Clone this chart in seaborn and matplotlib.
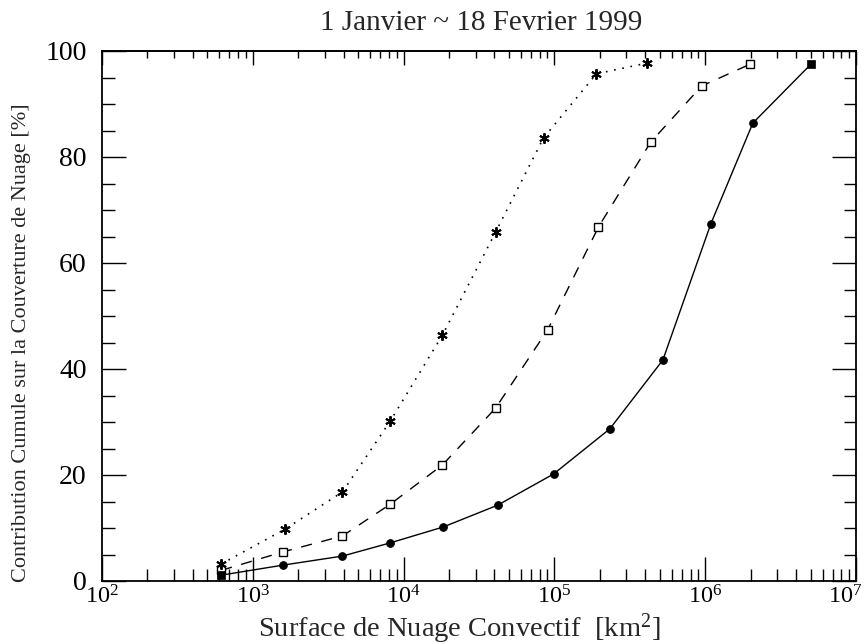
import numpy as np
import pandas as pd
import matplotlib
matplotlib.use("Agg")
import matplotlib.pyplot as plt
import matplotlib.ticker as mticker
import matplotlib.transforms as mtransforms
import seaborn as sns

# ---- data ----
x_solid = [617, 1590, 3930, 8170, 18350, 42000, 98900, 233000, 524000, 1090000, 2070000, 5020000]
y_solid = [1.1, 3.0, 4.7, 7.2, 10.2, 14.3, 20.2, 28.7, 41.7, 67.4, 86.4, 97.5]

x_dash = [617, 1590, 3930, 8170, 18100, 40700, 90200, 196000, 435000, 948000, 1980000]
y_dash = [2.0, 5.5, 8.5, 14.5, 21.9, 32.6, 47.4, 66.8, 82.8, 93.4, 97.5]

x_dot = [617, 1640, 3930, 8170, 18100, 40700, 84700, 190000, 409000]
y_dot = [3.2, 9.8, 16.8, 30.2, 46.4, 65.8, 83.6, 95.7, 97.7]

title = "1 Janvier ~ 18 Fevrier 1999"
xlabel = r"Surface de Nuage Convectif  [km$\mathregular{^2}$]"
ylabel = "Contribution Cumule sur la Couverture de Nuage [%]"

sns.set_theme(style="ticks")
plt.rcParams["font.family"] = ["Liberation Serif", "DejaVu Serif"]
plt.rcParams["mathtext.fontset"] = "custom"
plt.rcParams["mathtext.rm"] = "Liberation Serif"
plt.rcParams["mathtext.it"] = "Liberation Serif:italic"
plt.rcParams["mathtext.bf"] = "Liberation Serif:bold"

fig = plt.figure(figsize=(8.64, 6.44), dpi=100)
ax = fig.add_axes([102/864, 1 - 581/644, (856-102)/864, (581-51)/644])

df_solid = pd.DataFrame({"x": x_solid, "y": y_solid})
df_dash = pd.DataFrame({"x": x_dash, "y": y_dash})
df_dot = pd.DataFrame({"x": x_dot, "y": y_dot})

# solid line with filled circles (first/last squares)
sns.lineplot(data=df_solid, x="x", y="y", ax=ax, color="black", lw=1.0,
             sort=False, estimator=None, marker="o", markersize=5.5,
             markeredgecolor="black", markerfacecolor="black",
             markevery=list(range(1, len(x_solid) - 1)))
sns.scatterplot(data=df_solid.iloc[[0, -1]], x="x", y="y", ax=ax, color="black",
                marker="s", s=30, edgecolor="black", linewidth=0.5, zorder=4)

sns.lineplot(data=df_dash, x="x", y="y", ax=ax, color="black", lw=1.0,
             sort=False, estimator=None, linestyle=(0, (8, 7)), marker="s",
             markersize=6, markerfacecolor="white", markeredgecolor="black",
             markeredgewidth=1.0)

sns.lineplot(data=df_dot, x="x", y="y", ax=ax, color="black", lw=1.2,
             sort=False, estimator=None, linestyle=(0, (1, 4)), marker=(6, 2, 0),
             markersize=7.5, markeredgecolor="black", markeredgewidth=1.4)

ax.set_xscale("log")
ax.set_xlim(1e2, 1e7)
ax.set_ylim(0, 100)
ax.xaxis.set_major_locator(mticker.LogLocator(base=10, numticks=10))
ax.xaxis.set_minor_locator(mticker.LogLocator(base=10, subs=np.arange(2, 10), numticks=20))
ax.xaxis.set_minor_formatter(mticker.NullFormatter())
ax.yaxis.set_major_locator(mticker.MultipleLocator(20))
ax.yaxis.set_minor_locator(mticker.MultipleLocator(5))

for s in ax.spines.values():
    s.set_linewidth(1.3)
    s.set_color("black")
    s.set_visible(True)

ax.tick_params(axis="both", which="both", direction="in", colors="black", width=1.0)
ax.tick_params(axis="y", which="major", length=17, labelsize=20, right=True, pad=11)
ax.tick_params(axis="y", which="minor", length=9, right=True)
ax.tick_params(axis="x", which="major", length=17, labelsize=17.5, pad=3)
ax.tick_params(axis="x", which="minor", length=9)

# top axis with shorter ticks
sec = ax.secondary_xaxis("top")
sec.xaxis.set_major_locator(mticker.LogLocator(base=10, numticks=10))
sec.xaxis.set_minor_locator(mticker.LogLocator(base=10, subs=np.arange(2, 10), numticks=20))
sec.xaxis.set_major_formatter(mticker.NullFormatter())
sec.xaxis.set_minor_formatter(mticker.NullFormatter())
sec.tick_params(axis="x", which="major", direction="in", length=10, width=1.0, colors="black")
sec.tick_params(axis="x", which="minor", direction="in", length=5, width=1.0, colors="black")
sec.spines["top"].set_linewidth(1.3)

ax.set_xlabel(xlabel, fontsize=20.5)
ax.xaxis.set_label_coords(0.474, -0.057)
ax.set_ylabel(ylabel, fontsize=16)
ax.yaxis.set_label_coords(-0.094, 0.449)
ax.set_title(title, fontsize=21, pad=15)
ax.title.set_position((0.503, 1.0))

# keep the last x tick label inside the figure, as in the reference
fig.canvas.draw()
for lab in ax.get_xticklabels():
    if "7" in lab.get_text():
        lab.set_horizontalalignment("right")
        lab.set_transform(lab.get_transform() + mtransforms.ScaledTranslation(6/100, 0, fig.dpi_scale_trans))

fig.savefig("out.png", dpi=100, facecolor="white")
